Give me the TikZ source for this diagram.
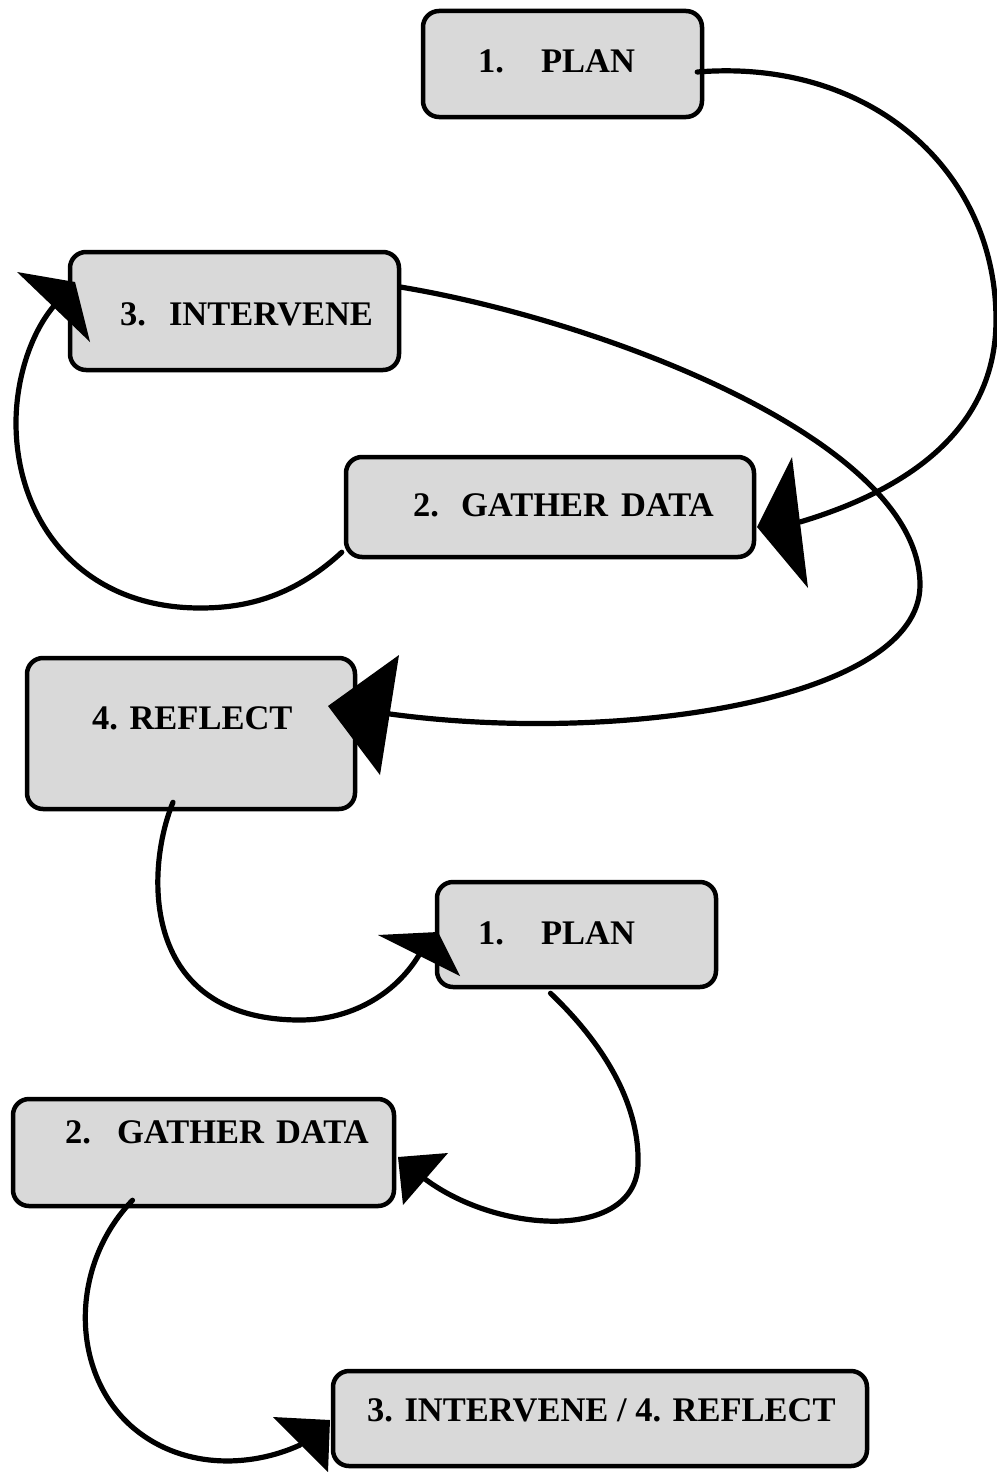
\documentclass[tikz,border=0pt]{standalone}
\usepackage{fontspec}
\setmainfont{Liberation Serif}
\definecolor{boxgray}{HTML}{D9D9D9}
\begin{document}
\begin{tikzpicture}[x=1pt,y=-1pt,
  box/.style={draw=black, line width=4.5pt, fill=boxgray, rounded corners=16pt, inner sep=0pt},
  conn/.style={line width=5.2pt, line cap=round},
  head/.style={fill=black},
  lbl/.style={anchor=base west, inner sep=0pt, font=\bfseries\fontsize{34.5}{40}\selectfont}]
\useasboundingbox (0,0) rectangle (996,1472);
% boxes
\node[box, minimum width=279pt, minimum height=106pt] (plan1) at (562.5,64) {};
\node[box, minimum width=329pt, minimum height=118pt] (intervene) at (234.5,311) {};
\node[box, minimum width=408pt, minimum height=100pt] (gather1) at (550,507) {};
\node[box, minimum width=328pt, minimum height=151pt] (reflect) at (191,733.5) {};
\node[box, minimum width=279pt, minimum height=105pt] (plan2) at (576.5,934.5) {};
\node[box, minimum width=381pt, minimum height=107pt] (gather2) at (203.5,1152.5) {};
\node[box, minimum width=534pt, minimum height=95pt] (final) at (600,1418.5) {};
% labels
\node[lbl] (t1) at (478,72) {1.\hspace{37pt}PLAN};
\node[lbl] (t3) at (120,325) {3.\hspace{23pt}INTERVENE};
\node[lbl] (t2) at (413,516) {2.\hspace{22pt}GATHER\hspace{13pt}DATA};
\node[lbl] (t4) at (92,729) {4. REFLECT};
\node[lbl] (t5) at (478,944) {1.\hspace{37pt}PLAN};
\node[lbl] (t6) at (65,1143) {2.\hspace{26pt}GATHER\hspace{12pt}DATA};
\node[lbl] (t7) at (367,1421) {3. INTERVENE / 4. REFLECT};
% arrow end coordinates
\coordinate (eA) at (53,307);
\coordinate (eB) at (800,522);
\coordinate (eC) at (390,714);
\coordinate (eD) at (419,955);
\coordinate (eE) at (425,1179);
\coordinate (eF) at (300,1445);
% connectors
\draw[conn] ([shift={(-7,8)}]plan1.east) .. controls (870,58) and (996,170) .. (996,320)
  .. controls (996,440) and (890,495) .. (eB);
\draw[conn] ([shift={(-1,-24)}]intervene.east) .. controls (600,320) and (920,440) .. (920,585)
  .. controls (920,700) and (620,745) .. (eC);
\draw[conn] ([shift={(-2,-7)}]gather1.south west) .. controls (290,600) and (240,608) .. (200,608)
  .. controls (80,608) and (16,520) .. (16,423)
  .. controls (16,380) and (30,335) .. (eA);
\draw[conn] ([shift={(-18,-9)}]reflect.south) .. controls (145,870) and (140,1020) .. (300,1020)
  .. controls (350,1020) and (395,995) .. (eD);
\draw[conn] ([shift={(-26,4)}]plan2.south) .. controls (610,1050) and (640,1110) .. (638,1165)
  .. controls (635,1240) and (500,1235) .. (eE);
\draw[conn] ([shift={(-71,-8)}]gather2.south) .. controls (70,1265) and (70,1370) .. (130,1425)
  .. controls (180,1470) and (250,1468) .. (eF);
% arrowheads
\fill[head] (75,282) -- (17,272) -- (90,342) -- cycle;
\fill[head] (757,527) -- (792,457) -- (808,588) -- cycle;
\fill[head] (328,706) -- (399,655) -- (380,775) -- cycle;
\fill[head] (438,932) -- (378,935) -- (460,976) -- cycle;
\fill[head] (398,1157) -- (448,1153) -- (403,1205) -- cycle;
\fill[head] (330,1420) -- (273,1417) -- (328,1472) -- cycle;
\end{tikzpicture}
\end{document}
